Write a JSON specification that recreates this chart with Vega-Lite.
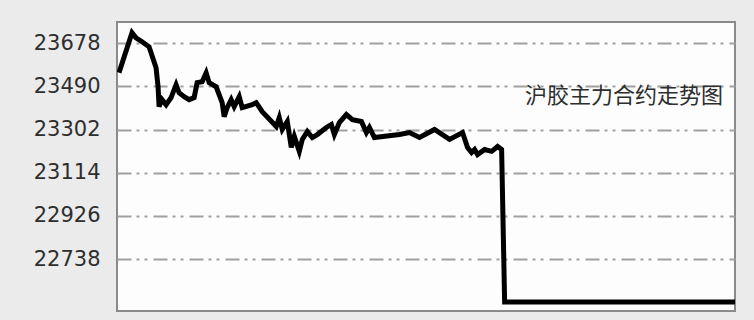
{
  "$schema": "https://vega.github.io/schema/vega-lite/v6.json",
  "width": 618,
  "height": 289,
  "autosize": {"type": "none"},
  "padding": {"left": 117, "top": 22, "right": 19, "bottom": 9},
  "background": "#ebebeb",
  "config": {
    "view": {"fill": "#fdfdfd", "stroke": "#8a8a8a", "strokeWidth": 2}
  },
  "layer": [
    {
      "data": {
        "values": [
          {"t": 2, "price": 23549},
          {"t": 15, "price": 23723},
          {"t": 19, "price": 23701},
          {"t": 25, "price": 23684},
          {"t": 32, "price": 23662},
          {"t": 34, "price": 23636},
          {"t": 39, "price": 23571},
          {"t": 41, "price": 23488},
          {"t": 42, "price": 23402},
          {"t": 45, "price": 23432},
          {"t": 49, "price": 23410},
          {"t": 54, "price": 23441},
          {"t": 59, "price": 23497},
          {"t": 62, "price": 23462},
          {"t": 67, "price": 23445},
          {"t": 72, "price": 23432},
          {"t": 77, "price": 23441},
          {"t": 80, "price": 23506},
          {"t": 85, "price": 23510},
          {"t": 89, "price": 23549},
          {"t": 92, "price": 23506},
          {"t": 99, "price": 23488},
          {"t": 105, "price": 23419},
          {"t": 107, "price": 23358},
          {"t": 110, "price": 23397},
          {"t": 114, "price": 23432},
          {"t": 117, "price": 23402},
          {"t": 122, "price": 23445},
          {"t": 125, "price": 23397},
          {"t": 135, "price": 23410},
          {"t": 139, "price": 23419},
          {"t": 145, "price": 23380},
          {"t": 159, "price": 23315},
          {"t": 162, "price": 23354},
          {"t": 165, "price": 23302},
          {"t": 170, "price": 23337},
          {"t": 174, "price": 23224},
          {"t": 177, "price": 23272},
          {"t": 182, "price": 23207},
          {"t": 185, "price": 23259},
          {"t": 190, "price": 23293},
          {"t": 195, "price": 23267},
          {"t": 200, "price": 23280},
          {"t": 209, "price": 23311},
          {"t": 214, "price": 23324},
          {"t": 217, "price": 23280},
          {"t": 222, "price": 23332},
          {"t": 229, "price": 23367},
          {"t": 235, "price": 23345},
          {"t": 244, "price": 23337},
          {"t": 249, "price": 23289},
          {"t": 252, "price": 23311},
          {"t": 257, "price": 23267},
          {"t": 282, "price": 23280},
          {"t": 292, "price": 23289},
          {"t": 302, "price": 23267},
          {"t": 317, "price": 23302},
          {"t": 332, "price": 23259},
          {"t": 345, "price": 23289},
          {"t": 350, "price": 23224},
          {"t": 354, "price": 23202},
          {"t": 357, "price": 23215},
          {"t": 360, "price": 23193},
          {"t": 367, "price": 23215},
          {"t": 374, "price": 23207},
          {"t": 380, "price": 23228},
          {"t": 384, "price": 23215},
          {"t": 387, "price": 22551},
          {"t": 617, "price": 22551}
        ]
      },
      "mark": {"type": "line", "color": "#000000", "strokeWidth": 5, "clip": true},
      "encoding": {
        "x": {
          "field": "t",
          "type": "quantitative",
          "scale": {"domain": [0, 617], "nice": false, "zero": false},
          "axis": null
        },
        "y": {
          "field": "price",
          "type": "quantitative",
          "scale": {"domain": [22512, 23770], "nice": false, "zero": false},
          "axis": {
            "title": null,
            "values": [22738, 22926, 23114, 23302, 23490, 23678],
            "format": "d",
            "domain": false,
            "ticks": false,
            "labelFont": "DejaVu Sans",
            "labelFontSize": 21,
            "labelColor": "#2e2e2e",
            "labelPadding": 17,
            "grid": true,
            "gridColor": "#a0a0a0",
            "gridWidth": 2,
            "gridDash": [14, 5, 3, 5, 3, 6]
          }
        }
      }
    },
    {
      "data": {"values": [{"label": "沪胶主力合约走势图"}]},
      "mark": {
        "type": "text",
        "align": "right",
        "baseline": "middle",
        "font": "Noto Sans CJK SC",
        "fontSize": 22,
        "color": "#2e2e2e"
      },
      "encoding": {
        "x": {"datum": 605, "type": "quantitative"},
        "y": {"datum": 23449, "type": "quantitative"},
        "text": {"field": "label"}
      }
    }
  ]
}
